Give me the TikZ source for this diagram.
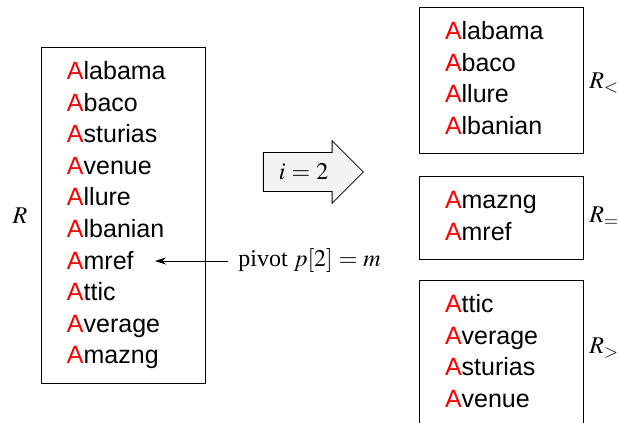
\documentclass[tikz,border=0pt]{standalone}
\usepackage{mathptmx}
\usepackage{fontspec}
\setmainfont{Liberation Serif}
\newfontfamily\wordfont{Liberation Sans}
\usetikzlibrary{shapes.arrows,arrows.meta}
\newcommand{\aword}[1]{\strut\textcolor{red}{A}#1}
\thickmuskip=4.5mu plus 2mu

\begin{document}
\begin{tikzpicture}[x=0.5pt,y=-0.5pt,
    box/.style={draw,anchor=north,align=left,text width=56pt,inner xsep=13pt,inner ysep=5pt,
        font=\wordfont\fontsize{12.5}{15.8}\selectfont},
    lbl/.style={inner sep=0pt,font=\fontsize{12}{14}\selectfont}]
    \useasboundingbox (0,0) rectangle (618,423);

    \node[box] (R) at (123,47) {\aword{labama}\\\aword{baco}\\\aword{sturias}\\\aword{venue}\\\aword{llure}\\
        \aword{lbanian}\\\aword{mref}\\\aword{ttic}\\\aword{verage}\\\aword{mazng}};
    \node[box] (lt) at (501,7) {\aword{labama}\\\aword{baco}\\\aword{llure}\\\aword{lbanian}};
    \node[box] (eq) at (501,176) {\aword{mazng}\\\aword{mref}};
    \node[box] (gt) at (501,280) {\aword{ttic}\\\aword{verage}\\\aword{sturias}\\\aword{venue}};

    \node[lbl] (Rn) at (20,216) {$R$};
    \node[lbl,anchor=west] (Rlt) at (589,83) {$R_<$};
    \node[lbl,anchor=west] (Req) at (589,217) {$R_=$};
    \node[lbl,anchor=west] (Rgt) at (589,348) {$R_>$};

    \node[single arrow,draw,fill=gray!10,lbl,anchor=tail,inner ysep=5.5pt,
        minimum height=50pt,single arrow head extend=5.85pt] (step) at (263,172) {$i = 2$};

    \node[lbl,anchor=west] (piv) at (238,261) {pivot $p[2] = m$};
    \coordinate (amref) at (155,261);
    \draw[-{Stealth[length=5.5pt,width=3.5pt]},shorten <=5pt] (piv.west) -- (amref);
\end{tikzpicture}
\end{document}
